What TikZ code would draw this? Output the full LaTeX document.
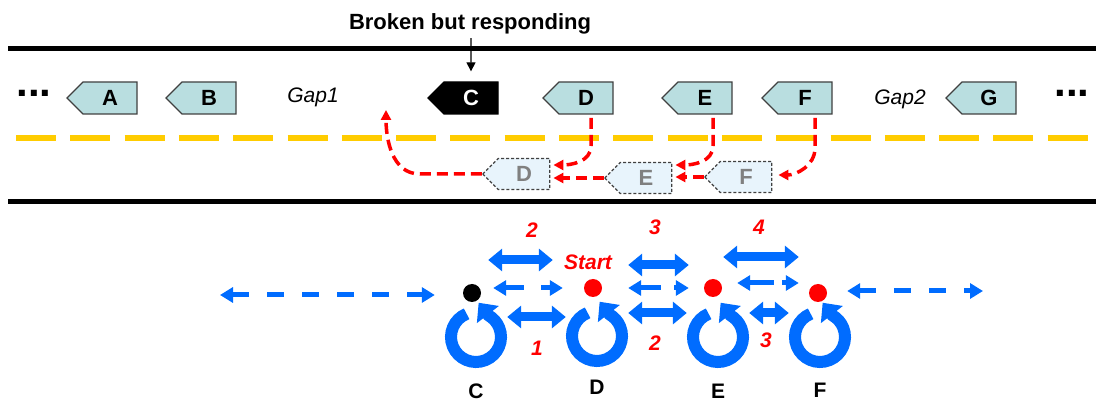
\documentclass[tikz,border=0pt]{standalone}
\usepackage{fontspec}
\setmainfont{Liberation Sans}
\usetikzlibrary{positioning}
\usetikzlibrary{calc}
\usetikzlibrary{shapes.arrows}
\usetikzlibrary{arrows.meta}
\definecolor{gene colour}{RGB}{185,222,224}
\definecolor{ghost colour}{RGB}{232,244,252}
\definecolor{edge colour}{RGB}{64,64,64}
\definecolor{lane colour}{RGB}{255,204,0}
\definecolor{link colour}{RGB}{0,108,255}
\definecolor{move colour}{RGB}{255,0,0}
\tikzset{
    % Work in points, one point for each pixel of the layout
    x=1pt, y=1pt,
    >={Triangle[length=9,width=9]},
%
    % Gene boxes, all pointing to the left
    gene/.style={
        single arrow, single arrow head extend=0pt, shape border rotate=180,
        draw=edge colour, line width=1.3, fill=gene colour, inner sep=0,
        minimum height=70, minimum width=32,
        font=\fontsize{22}{24}\selectfont\bfseries},
    ghost/.style={gene, dash pattern=on 3 off 2, fill=ghost colour,
        text=black!50, minimum height=67, minimum width=31},
    gaptext/.style={font=\fontsize{21}{24}\selectfont\itshape},
    more/.style={font=\fontsize{42}{44}\selectfont\bfseries},
    % Lines across the strand
    rail/.style={line width=5},
    lane/.style={lane colour, line width=5.5, dash pattern=on 40 off 14.3},
    move/.style={move colour, line width=3.5, dash pattern=on 11 off 6,
        -{Triangle[length=10,width=10]}},
%
    % The ring diagram underneath
    ringspot/.style={circle, minimum size=62, inner sep=0},
    ring/.style={link colour, line width=12, -{Triangle[length=15,width=27]}},
    dot/.style={circle, minimum size=18, inner sep=0},
    block/.style={link colour, line width=9,
        {Triangle[length=14,width=22]}-{Triangle[length=14,width=22]}},
    dlink/.style={link colour, line width=5, dash pattern=on 17 off 18,
        {Triangle[length=13,width=15]}-{Triangle[length=13,width=15]}},
    tag/.style={inner sep=0, font=\fontsize{21}{24}\selectfont\bfseries},
    hop/.style={inner sep=0, text=move colour,
        font=\fontsize{21}{24}\selectfont\bfseries\itshape},
}

\begin{document}
\begin{tikzpicture}
\useasboundingbox (0,0) rectangle (1096,-403);

% strand borders and the lane between them
\draw [rail] (8,-49) -- (1096,-49);
\draw [rail] (8,-202) -- (1096,-202);
\draw [lane] (16,-138) -- (1090,-138);

\node (broken) [anchor=base, font=\fontsize{22}{24}\selectfont\bfseries]
    at (470,-30) {Broken but responding};

\node (dotsleft) [more] at (34,-93) {...};
\node (abox) [gene] at (110,-98) {A};
\node (bbox) [gene] at (209,-98) {B};
\node (gap1) [gaptext] at (313,-97) {Gap1};
\node (cbox) [gene, draw=black, fill=black, text=white] at (471,-98) {C};
\node (dbox) [gene] at (586,-98) {D};
\node (ebox) [gene] at (705,-98) {E};
\node (fbox) [gene] at (805,-98) {F};
\node (gap2) [gaptext] at (900,-99) {Gap2};
\node (gbox) [gene] at (989,-98) {G};
\node (dotsright) [more] at (1072,-93) {...};

\draw [line width=1.3, ->, shorten >=10] (broken.south -| cbox) -- (cbox);

% moved copies
\node (dghost) [ghost] at (524,-174) {D};
\node (eghost) [ghost] at (646,-178) {E};
\node (fghost) [ghost] at (746,-177) {F};

\coordinate (slot) at (386,-110);
\draw [move] (dghost.tip) -- ++(-62,0) to [out=180, in=-90] (slot);
\draw [move] ([shift={(5,-20)}]dbox.center) -- ++(0,-28)
    to [out=-90, in=0] ([shift={(3,9)}]dghost.tail);
\draw [move, shorten >=3] (eghost.tip) -- (eghost.tip -| dghost.tail);
\draw [move] ([shift={(8,-20)}]ebox.center) -- ++(0,-28)
    to [out=-90, in=0] ([shift={(3,13)}]eghost.tail);
\draw [move, shorten >=3] (fghost.tip) -- (fghost.tip -| eghost.tail);
\draw [move] ([shift={(10,-20)}]fbox.center) -- ++(0,-30)
    to [out=-90, in=0] ([shift={(6,2)}]fghost.tail);

% rings
\node (cring) [ringspot] at (476,-337) {};
\node (dring) [ringspot] at (597,-336) {};
\node (ering) [ringspot] at (718,-337) {};
\node (fring) [ringspot] at (820,-337) {};
\foreach \r in {cring,dring,ering,fring}
    \draw [ring] ([shift={(112:25)}]\r.center)
        arc [start angle=112, end angle=420, radius=25] -- ++(128:16);

\node (cdot) [dot, fill=black] at (472,-293) {};
\node (ddot) [dot, fill=move colour] at (593,-288) {};
\node (edot) [dot, fill=move colour] at (713,-288) {};
\node (fdot) [dot, fill=move colour] at (818,-293) {};

\node (ctag) [tag, below=15pt of cring] {C};
\node (dtag) [tag, below=13pt of dring] {D};
\node (etag) [tag, below=16pt of ering] {E};
\node (ftag) [tag, below=15pt of fring] {F};

\coordinate (farleft) at (220,-295);
\coordinate (farright) at (983,-291);
\draw [dlink, shorten >=28] (farleft) -- (farleft -| cdot.west);
\draw [dlink, shorten <=20] (farright -| fdot.east) -- (farright);

\draw [dlink, dash pattern=on 19 off 17, shorten <=12, shorten >=21]
    (cdot.east |- ddot) -- (ddot.west);
\draw [dlink, dash pattern=on 21 off 13, shorten <=26, shorten >=15]
    (ddot.east) -- (edot.west);
\draw [dlink, dash pattern=on 25 off 8, shorten <=15, shorten >=10]
    ([yshift=5]edot.east) -- ([yshift=10]fdot.west);

\draw [block] ([shift={(7,33)}]cdot.east) -- ([shift={(-31,28)}]ddot.west);
\draw [block] ([yshift=20]cring.east) -- ([yshift=19]dring.west);
\draw [block] ([shift={(26,23)}]ddot.east) -- ([shift={(-15,23)}]edot.west);
\draw [block] ([yshift=23]dring.east) -- ([yshift=24]ering.west);
\draw [block] ([shift={(1,31)}]edot.east) -- ([shift={(-10,36)}]fdot.west);
\draw [block] ([yshift=24]ering.east) -- ([yshift=24]fring.west);

\node (hopa) [hop] at (532,-230) {2};
\node (hopb) [hop] at (537,-348) {1};
\node (start) [hop] at (588,-262) {Start};
\node (hopc) [hop] at (655,-227) {3};
\node (hopd) [hop] at (655,-343) {2};
\node (hope) [hop] at (759,-227) {4};
\node (hopf) [hop] at (766,-340) {3};

\end{tikzpicture}
\end{document}
